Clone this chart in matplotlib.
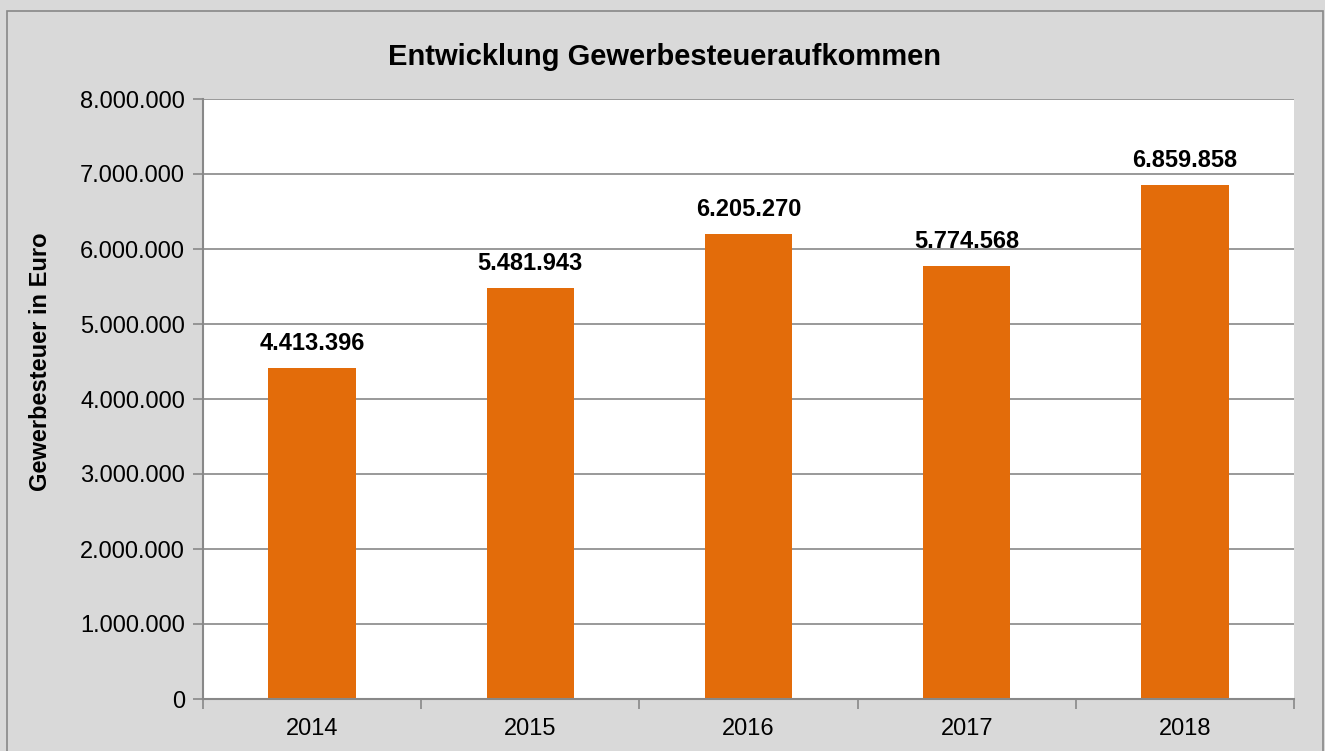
import matplotlib
matplotlib.use("Agg")
import matplotlib.pyplot as plt
from matplotlib.patches import Rectangle
from matplotlib.ticker import FuncFormatter, FixedLocator

years = ["2014", "2015", "2016", "2017", "2018"]
steuer = [4413396, 5481943, 6205270, 5774568, 6859858]
y_ticks = [0, 1000000, 2000000, 3000000, 4000000, 5000000, 6000000, 7000000, 8000000]

BAR_COLOR = "#E36C0A"
BG = "#D9D9D9"
LINE = "#888888"

plt.rcParams["font.family"] = ["Liberation Sans", "DejaVu Sans"]


def de_fmt(v, _pos=None):
    return f"{int(round(v)):,}".replace(",", ".")


fig = plt.figure(figsize=(13.25, 7.51), dpi=100, facecolor=BG)
# outer chart frame (only left/top/right edges fall inside the image)
fig.patches.append(Rectangle((7 / 1325, -0.1), (1323 - 7) / 1325, 1.1 - 11 / 751,
                             transform=fig.transFigure, facecolor="none",
                             edgecolor=LINE, linewidth=1.2))

ax = fig.add_axes([203 / 1325, 1 - 699 / 751, (1294 - 203) / 1325, (699 - 99) / 751])
ax.set_facecolor("white")

x = list(range(len(years)))
ax.bar(x, steuer, width=0.4, color=BAR_COLOR, zorder=3)

for xi, v in zip(x, steuer):
    ax.annotate(de_fmt(v), (xi, v), textcoords="offset points", xytext=(0, 9),
                ha="center", va="bottom", fontsize=17, fontweight="bold")

ax.set_xlim(-0.5, len(years) - 0.5)
ax.set_ylim(0, 8000000)
ax.set_yticks(y_ticks)
ax.yaxis.set_major_formatter(FuncFormatter(de_fmt))
ax.set_xticks(x)
ax.set_xticklabels(years)
ax.xaxis.set_minor_locator(FixedLocator([i - 0.5 for i in range(len(years) + 1)]))

ax.tick_params(axis="x", which="major", length=0, labelsize=17, pad=14)
ax.tick_params(axis="x", which="minor", length=7, width=1.2, color=LINE, direction="out")
ax.tick_params(axis="y", which="major", length=7, width=1.2, color=LINE, labelsize=17, pad=6)

ax.grid(axis="y", color=LINE, linewidth=1.2, zorder=0)
ax.set_axisbelow(True)
for side in ["top", "right"]:
    ax.spines[side].set_visible(False)
for side in ["left", "bottom"]:
    ax.spines[side].set_color(LINE)
    ax.spines[side].set_linewidth(1.5)
    ax.spines[side].set_zorder(4)

ax.set_ylabel("Gewerbesteuer in Euro", fontsize=17, fontweight="bold")
ax.yaxis.set_label_coords((52 - 203) / (1294 - 203), (699 - 362) / (699 - 99))
fig.text(665 / 1325, 1 - 65 / 751, "Entwicklung Gewerbesteueraufkommen",
         ha="center", va="baseline", fontsize=21, fontweight="bold")

fig.savefig("out.png", dpi=100, facecolor=BG)
